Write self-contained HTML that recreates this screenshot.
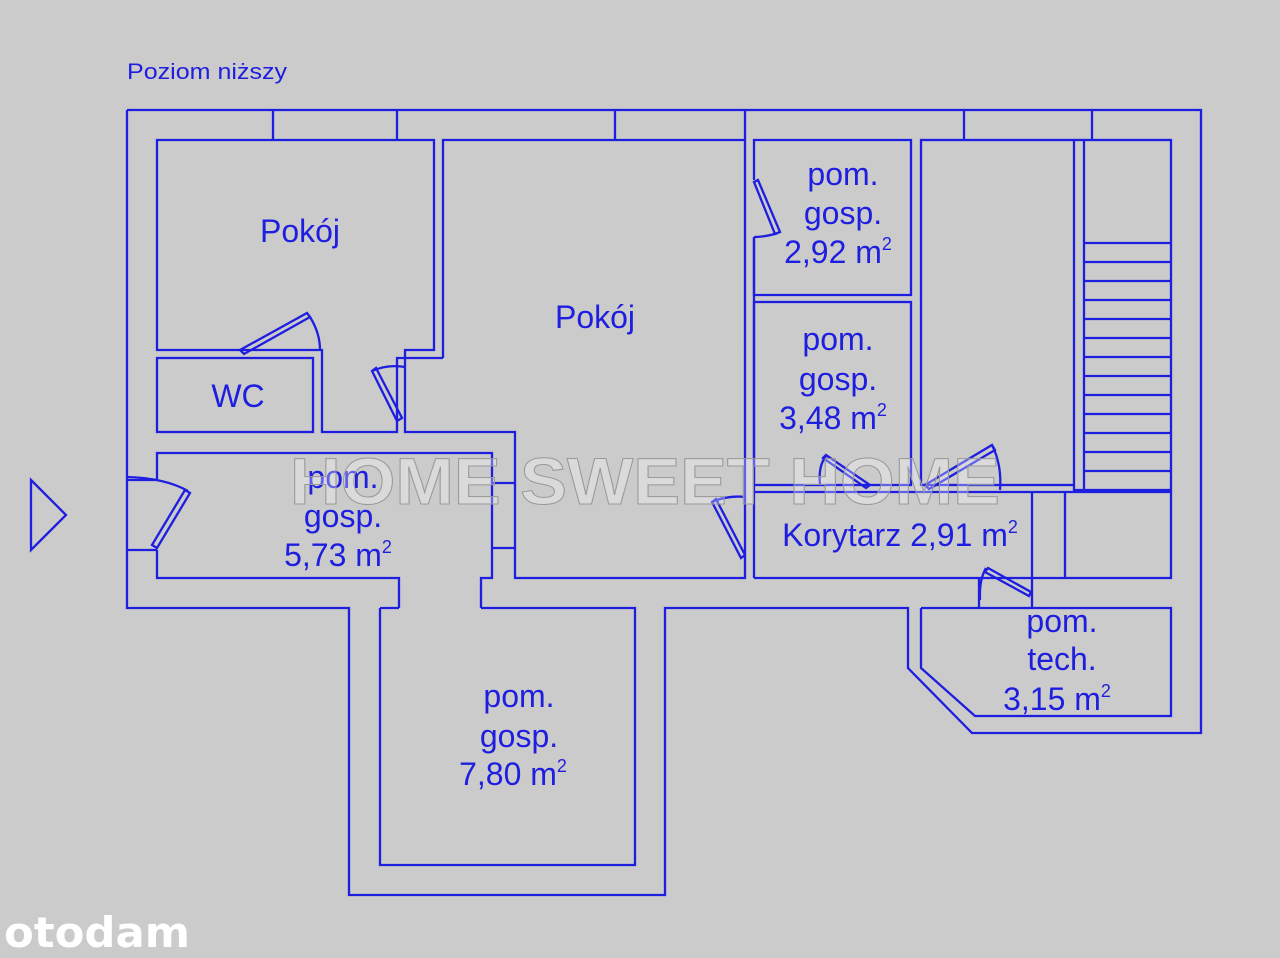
<!DOCTYPE html>
<html><head><meta charset="utf-8"><style>
html,body{margin:0;padding:0;background:#cbcbcb;}
svg{display:block}
</style></head><body>
<svg width="1280" height="958" viewBox="0 0 1280 958" xmlns="http://www.w3.org/2000/svg">
<rect width="1280" height="958" fill="#cbcbcb"/>
<g fill="none" stroke="#1e1ee0" stroke-width="2.3">
<polyline points="127,110 1201,110 1201,733 972,733 908,668 908,608 665,608 665,895 349,895 349,608 127,608 127,110"/>
<line x1="273" y1="110" x2="273" y2="140"/><line x1="397" y1="110" x2="397" y2="140"/>
<line x1="615" y1="110" x2="615" y2="140"/><line x1="745" y1="110" x2="745" y2="140"/>
<line x1="964" y1="110" x2="964" y2="140"/><line x1="1092" y1="110" x2="1092" y2="140"/>
<polyline points="240,350 157,350 157,140 434,140 434,350 405,350 405,432 515,432 515,578 745,578 745,140 443,140 443,358"/>
<polyline points="240,350 322,350 322,432 397,432 397,358 443,358"/>
<rect x="157" y="358" width="156" height="74"/>
<polyline points="157,480 157,453 492,453 492,578 481,578 481,608"/>
<polyline points="157,550 157,578 399,578 399,608"/>
<line x1="127" y1="480" x2="157" y2="480"/><line x1="127" y1="550" x2="157" y2="550"/>
<line x1="492" y1="483" x2="515" y2="483"/><line x1="492" y1="548" x2="515" y2="548"/>
<polyline points="380,608 380,865 635,865 635,608 481,608"/>
<line x1="380" y1="608" x2="399" y2="608"/>
<polyline points="754,180 754,140 911,140 911,295 754,295 754,237"/>
<line x1="754" y1="237" x2="754" y2="578"/>
<rect x="754" y="302" width="157" height="183"/>
<rect x="921" y="140" width="153" height="345"/>
<line x1="1074" y1="140" x2="1084" y2="140"/>
<polyline points="1074,485 1074,490 1084,490"/>
<rect x="1084" y="140" width="87" height="350"/>
<g>
<line x1="1084" y1="243" x2="1171" y2="243"/><line x1="1084" y1="262" x2="1171" y2="262"/>
<line x1="1084" y1="281" x2="1171" y2="281"/><line x1="1084" y1="300" x2="1171" y2="300"/>
<line x1="1084" y1="319" x2="1171" y2="319"/><line x1="1084" y1="338" x2="1171" y2="338"/>
<line x1="1084" y1="357" x2="1171" y2="357"/><line x1="1084" y1="376" x2="1171" y2="376"/>
<line x1="1084" y1="395" x2="1171" y2="395"/><line x1="1084" y1="414" x2="1171" y2="414"/>
<line x1="1084" y1="433" x2="1171" y2="433"/><line x1="1084" y1="452" x2="1171" y2="452"/>
<line x1="1084" y1="471" x2="1171" y2="471"/>
</g>
<polyline points="754,492 1171,492 1171,578 754,578"/>
<line x1="1032" y1="492" x2="1032" y2="608"/><line x1="1065" y1="492" x2="1065" y2="578"/>
<line x1="979" y1="578" x2="979" y2="608"/>
<polyline points="921,608 1171,608 1171,716 975,716 921,668 921,608"/>
<polygon points="240,350 307,313 310,317 244,354"/>
<path d="M310,317 Q320,333 320,350"/>
<polygon points="372,371 376,368 402,418 397,421"/>
<path d="M372,371 Q388,364 405,367"/>
<polygon points="185,490 190,493 157,548 152,545"/>
<path d="M127,477 Q165,478 188,491"/>
<polygon points="754,182 758,180 780,232 775,234"/>
<path d="M778,233 Q765,237 754,237"/>
<polygon points="823,458 826,455 870,485 866,488"/>
<path d="M820,485 Q818,466 826,456"/>
<polygon points="925,485 992,445 995,450 929,489"/>
<path d="M992,445 Q1002,465 1000,490"/>
<polygon points="712,502 716,499 745,555 741,558"/>
<path d="M712,502 Q728,495 745,497"/>
<polygon points="985,572 988,568 1031,592 1029,596"/>
<path d="M980,600 Q979,580 986,568"/>
<polygon points="31,480 66,515 31,550"/>
</g>
<g fill="#1e1ee0" font-family="Liberation Sans, sans-serif" text-anchor="middle" font-size="32">
<text x="127" y="79" font-size="22" text-anchor="start" textLength="160" lengthAdjust="spacingAndGlyphs">Poziom niższy</text>
<text x="300" y="242">Pokój</text>
<text x="595" y="328">Pokój</text>
<text x="238" y="407">WC</text>
<text x="343" y="488">pom.</text>
<text x="343" y="527">gosp.</text>
<text x="338" y="566">5,73 m<tspan font-size="18" dy="-13">2</tspan></text>
<text x="519" y="707">pom.</text>
<text x="519" y="747">gosp.</text>
<text x="513" y="785">7,80 m<tspan font-size="18" dy="-13">2</tspan></text>
<text x="843" y="185">pom.</text>
<text x="843" y="224">gosp.</text>
<text x="838" y="263">2,92 m<tspan font-size="18" dy="-13">2</tspan></text>
<text x="838" y="350">pom.</text>
<text x="838" y="390">gosp.</text>
<text x="833" y="429">3,48 m<tspan font-size="18" dy="-13">2</tspan></text>
<text x="900" y="546">Korytarz 2,91 m<tspan font-size="18" dy="-13">2</tspan></text>
<text x="1062" y="632">pom.</text>
<text x="1062" y="670">tech.</text>
<text x="1057" y="710">3,15 m<tspan font-size="18" dy="-13">2</tspan></text>
</g>
<text x="645" y="504" text-anchor="middle" font-family="Liberation Sans, sans-serif" font-weight="bold" font-size="66" fill="#ffffff" fill-opacity="0.3" stroke="#999999" stroke-width="1" textLength="710" lengthAdjust="spacingAndGlyphs">HOME SWEET HOME</text>
<text x="4" y="947" font-family="DejaVu Sans, sans-serif" font-weight="bold" font-size="42" fill="#ffffff" textLength="186" lengthAdjust="spacingAndGlyphs">otodam</text>
</svg>
</body></html>
